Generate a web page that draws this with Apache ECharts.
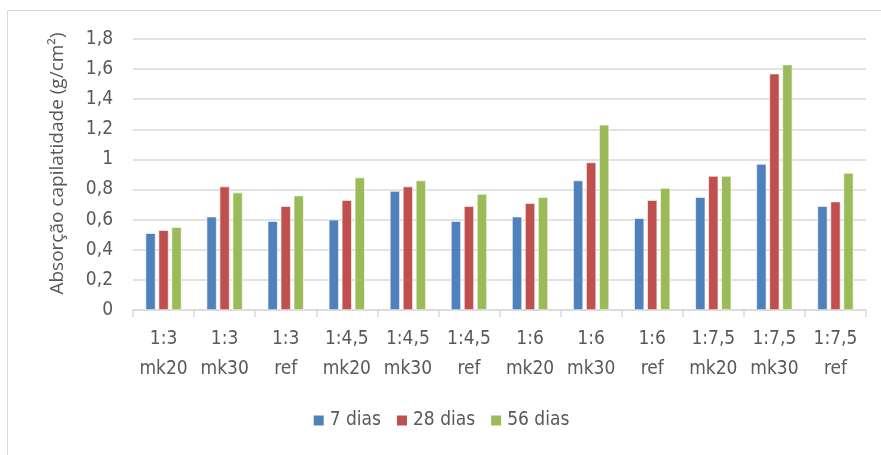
<!DOCTYPE html>
<html>
<head>
<meta charset="utf-8">
<script src="https://cdn.jsdelivr.net/npm/echarts@6/dist/echarts.min.js"></script>
<style>
  html, body { margin: 0; padding: 0; background: #fff; }
  #chart { width: 881px; height: 455px; }
</style>
</head>
<body>
<div id="chart"></div>
<script>
// categorias e valores
var categories = ['1:3\nmk20', '1:3\nmk30', '1:3\nref', '1:4,5\nmk20', '1:4,5\nmk30', '1:4,5\nref',
                  '1:6\nmk20', '1:6\nmk30', '1:6\nref', '1:7,5\nmk20', '1:7,5\nmk30', '1:7,5\nref'];
var seriesNames = ['7 dias', '28 dias', '56 dias'];
var dias7  = [0.51, 0.62, 0.59, 0.60, 0.79, 0.59, 0.62, 0.86, 0.61, 0.75, 0.97, 0.69];
var dias28 = [0.53, 0.82, 0.69, 0.73, 0.82, 0.69, 0.71, 0.98, 0.73, 0.89, 1.57, 0.72];
var dias56 = [0.55, 0.78, 0.76, 0.88, 0.86, 0.77, 0.75, 1.23, 0.81, 0.89, 1.63, 0.91];
var colors = ['#4F81BD', '#C0504D', '#9BBB59'];

var font = '"DejaVu Sans Condensed", "Liberation Sans", sans-serif';
var myChart = echarts.init(document.getElementById('chart'));

function bar(name, data, i) {
  return {
    name: name,
    type: 'bar',
    data: data,
    barWidth: 10,
    barGap: '30%',
    itemStyle: { color: colors[i], borderColor: '#ffffff', borderWidth: 0.6 }
  };
}

var option = {
  animation: false,
  color: colors,
  graphic: [{
    type: 'rect',
    shape: { x: 7.5, y: 10.5, width: 880, height: 450 },
    style: { fill: 'none', stroke: '#D9D9D9', lineWidth: 1 }
  }],
  grid: { left: 133, right: 15, top: 39, bottom: 145 },
  legend: {
    data: seriesNames,
    bottom: 20,
    left: 'center',
    itemWidth: 12,
    itemHeight: 12,
    itemGap: 14,
    icon: 'rect',
    textStyle: { color: '#595959', fontSize: 19, fontFamily: font }
  },
  xAxis: {
    type: 'category',
    data: categories,
    axisLine: { lineStyle: { color: '#D9D9D9', width: 1.5 } },
    axisTick: { show: true, length: 7, lineStyle: { color: '#D9D9D9', width: 1.5 } },
    axisLabel: {
      color: '#595959', fontSize: 19, fontFamily: font, lineHeight: 30, margin: 14, interval: 0
    }
  },
  yAxis: {
    type: 'value',
    min: 0,
    max: 1.8,
    interval: 0.2,
    name: 'Absorção capilatidade (g/cm²)',
    nameLocation: 'middle',
    nameGap: 66,
    nameTextStyle: { color: '#595959', fontSize: 19, fontFamily: '"Open Sans", sans-serif', padding: [0, 0, 0, 22] },
    axisLine: { show: false },
    axisTick: { show: false },
    splitLine: { lineStyle: { color: '#D9D9D9', width: 1.5 } },
    axisLabel: {
      color: '#595959', fontSize: 19, fontFamily: font, margin: 20,
      formatter: function (v) { return (Math.round(v * 10) / 10).toString().replace('.', ','); }
    }
  },
  series: [bar(seriesNames[0], dias7, 0), bar(seriesNames[1], dias28, 1), bar(seriesNames[2], dias56, 2)]
};
myChart.setOption(option);
</script>
</body>
</html>
